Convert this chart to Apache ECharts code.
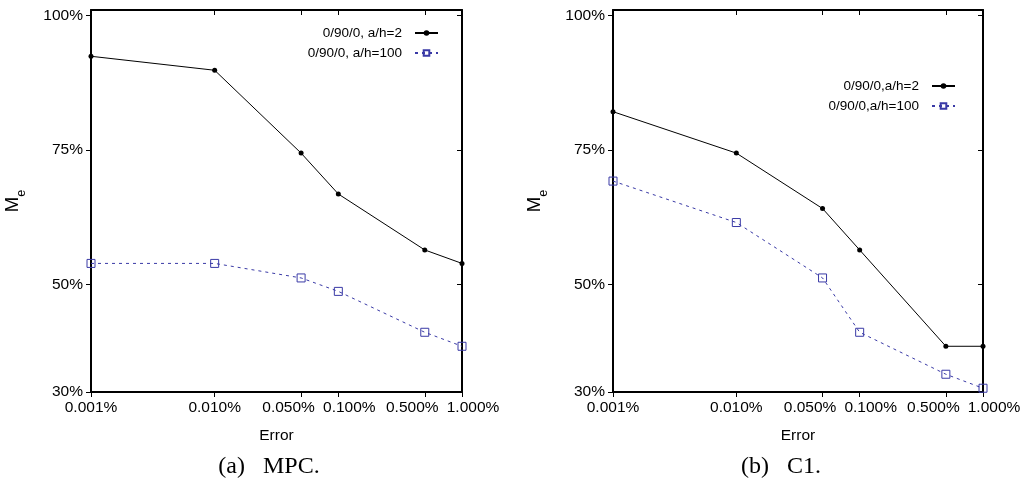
<!DOCTYPE html>
<html>
<head>
<meta charset="utf-8">
<script src="https://cdn.jsdelivr.net/npm/echarts@6/dist/echarts.min.js"></script>
<style>
  html, body { margin: 0; padding: 0; background: #fff; }
  #chart { width: 1025px; height: 482px; }
</style>
</head>
<body>
<div id="chart"></div>
<script>
// Relative error levels (percent) on the shared log-scaled x axis
const errorLevels = [0.001, 0.01, 0.05, 0.1, 0.5, 1];
const xTickValues = [0.001, 0.01, 0.05, 0.1, 0.5, 1];
const yTickValues = [30, 50, 75, 100];

// Panel (a) MPC: M_e in percent
const mpcThinName = '0/90/0, a/h=2';
const mpcThin = [92.4, 89.8, 74.4, 66.8, 56.4, 53.9];
const mpcThickName = '0/90/0, a/h=100';
const mpcThick = [53.9, 53.9, 51.2, 48.7, 41.1, 38.5];

// Panel (b) C1: M_e in percent
const c1ThinName = '0/90/0,a/h=2';
const c1Thin = [82.1, 74.4, 64.1, 56.4, 38.5, 38.5];
const c1ThickName = '0/90/0,a/h=100';
const c1Thick = [69.2, 61.5, 51.2, 41.1, 33.3, 30.7];

const captions = ['(a)   MPC.', '(b)   C1.'];

const SANS = 'Liberation Sans, Arial, Helvetica, sans-serif';
const SERIF = 'Liberation Serif, Times New Roman, serif';
const BLUE = '#3a3aa6';
const TICK_FONT = 15.5;

const pairs = (xs, ys) => xs.map((x, i) => [x, ys[i]]);

// Neighbouring x tick labels (0.05/0.1 and 0.5/1) are nudged apart so they don't collide
const labelNudge = { '0.050%': 'l', '0.500%': 'l', '0.100%': 'r', '1.000%': 'r' };
function xTickLabel(v) {
  const s = Number(v).toFixed(3) + '%';
  const k = labelNudge[s];
  return k ? '{' + k + '|' + s + '}' : s;
}
const tickRich = {
  l: { fontFamily: SANS, fontSize: TICK_FONT, color: '#000', padding: [0, 25, 0, 0] },
  r: { fontFamily: SANS, fontSize: TICK_FONT, color: '#000', padding: [0, 0, 0, 22] }
};

const grids = [
  { left: 91, right: 563, top: 10, bottom: 90 },
  { left: 613, right: 42, top: 10, bottom: 90 }
];

function xAxes(gridIndex) {
  const common = {
    type: 'log', logBase: 10, gridIndex, min: 0.001, max: 1,
    splitLine: { show: false }, minorTick: { show: false }
  };
  return [
    Object.assign({}, common, {
      position: 'bottom',
      name: 'Error', nameLocation: 'middle', nameGap: 36,
      nameTextStyle: { fontFamily: SANS, fontSize: TICK_FONT, color: '#000' },
      axisLine: { show: true, lineStyle: { color: '#000', width: 2 } },
      axisTick: { show: true, inside: false, length: 5, customValues: xTickValues, lineStyle: { color: '#000', width: 1 } },
      axisLabel: {
        show: true, margin: 8, customValues: xTickValues,
        fontFamily: SANS, fontSize: TICK_FONT, color: '#000',
        formatter: xTickLabel, rich: tickRich
      }
    }),
    Object.assign({}, common, {
      position: 'top',
      axisLine: { show: true, lineStyle: { color: '#000', width: 2 } },
      axisTick: { show: true, inside: true, length: 5, customValues: xTickValues, lineStyle: { color: '#000', width: 1 } },
      axisLabel: { show: false }
    })
  ];
}

function yAxes(gridIndex) {
  const common = {
    type: 'value', gridIndex, min: 30, max: 101,
    splitLine: { show: false }
  };
  return [
    Object.assign({}, common, {
      position: 'left',
      name: '{m|M}{s|e}', nameLocation: 'middle', nameRotate: 90, nameGap: 63,
      nameTextStyle: {
        color: '#000',
        rich: {
          m: { fontFamily: SANS, fontSize: 18.5, color: '#000', padding: [0, 0, 6, 0] },
          s: { fontFamily: SANS, fontSize: 12.5, color: '#000', verticalAlign: 'bottom' }
        }
      },
      axisLine: { show: true, lineStyle: { color: '#000', width: 2 } },
      axisTick: { show: true, inside: false, length: 5, customValues: yTickValues, lineStyle: { color: '#000', width: 1 } },
      axisLabel: {
        show: true, margin: 8, customValues: yTickValues,
        fontFamily: SANS, fontSize: TICK_FONT, color: '#000',
        formatter: v => v + '%'
      }
    }),
    Object.assign({}, common, {
      position: 'right',
      axisLine: { show: true, lineStyle: { color: '#000', width: 2 } },
      axisTick: { show: true, inside: true, length: 5, customValues: yTickValues, lineStyle: { color: '#000', width: 1 } },
      axisLabel: { show: false }
    })
  ];
}

function solidSeries(name, values, axisBase) {
  return {
    name, type: 'line', data: pairs(errorLevels, values),
    xAxisIndex: axisBase, yAxisIndex: axisBase,
    symbol: 'circle', symbolSize: 5,
    lineStyle: { color: '#000', width: 1 },
    itemStyle: { color: '#000' },
    emphasis: { disabled: true }, animation: false, z: 3
  };
}

function dashedSeries(name, values, axisBase) {
  return {
    name, type: 'line', data: pairs(errorLevels, values),
    xAxisIndex: axisBase, yAxisIndex: axisBase,
    symbol: 'rect', symbolSize: 8,
    lineStyle: { color: BLUE, width: 1, type: [3, 4] },
    itemStyle: { color: 'rgba(0,0,0,0)', borderColor: BLUE, borderWidth: 1 },
    emphasis: { disabled: true }, animation: false, z: 3
  };
}

function legend(names, right, top) {
  return {
    data: names, orient: 'vertical', align: 'right',
    right, top, itemWidth: 23, itemHeight: 7, itemGap: 6,
    selectedMode: false,
    textStyle: { fontFamily: SANS, fontSize: 13.5, color: '#000', padding: [0, 8, 0, 0] }
  };
}

const captionStyle = { fontFamily: SERIF, fontSize: 24, fontWeight: 'normal', color: '#000' };

const option = {
  backgroundColor: '#fff',
  animation: false,
  grid: grids,
  xAxis: [...xAxes(0), ...xAxes(1)],
  yAxis: [...yAxes(0), ...yAxes(1)],
  legend: [
    legend([mpcThinName, mpcThickName], 581, 21),
    legend([c1ThinName, c1ThickName], 64, 74)
  ],
  title: [
    { text: captions[0], left: 264, top: 450, textAlign: 'center', textStyle: captionStyle },
    { text: captions[1], left: 776, top: 450, textAlign: 'center', textStyle: captionStyle }
  ],
  series: [
    solidSeries(mpcThinName, mpcThin, 0),
    dashedSeries(mpcThickName, mpcThick, 0),
    solidSeries(c1ThinName, c1Thin, 2),
    dashedSeries(c1ThickName, c1Thick, 2)
  ]
};

const chart = echarts.init(document.getElementById('chart'), null, { renderer: 'canvas' });
chart.setOption(option);
</script>
</body>
</html>
